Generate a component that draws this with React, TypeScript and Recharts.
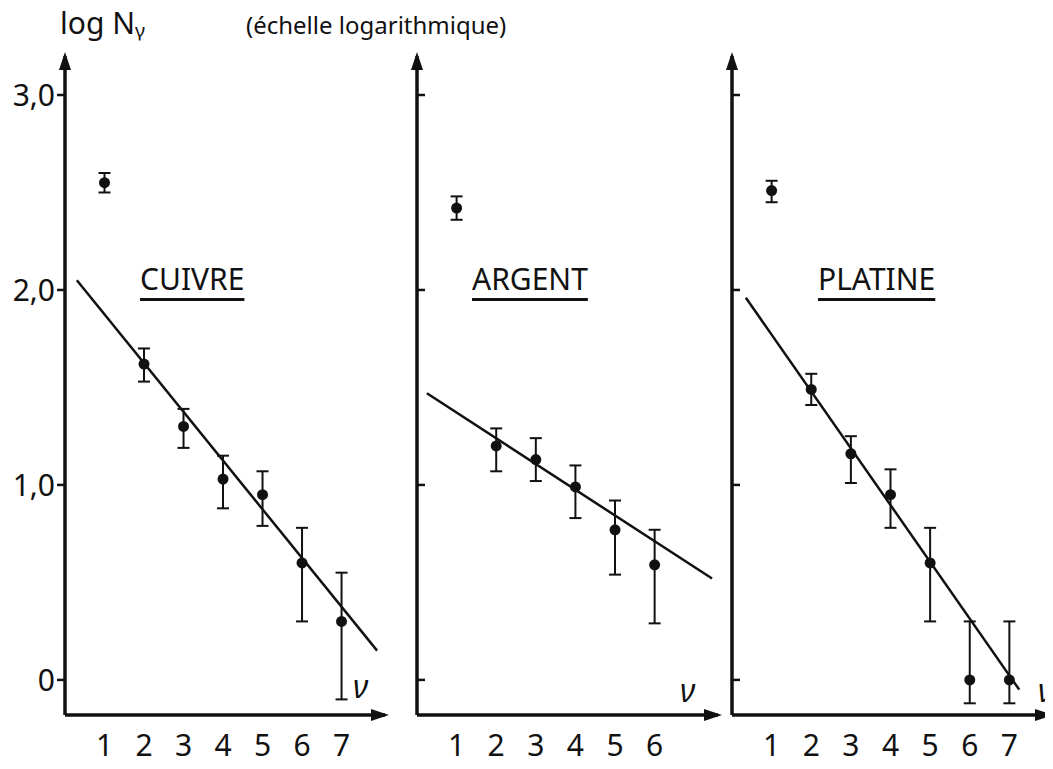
import React from "react";
import { ComposedChart, Scatter, Line, XAxis, YAxis, ErrorBar, ReferenceDot } from "recharts";

const cuivreX = [1, 2, 3, 4, 5, 6, 7];
const cuivreY = [2.55, 1.62, 1.3, 1.03, 0.95, 0.6, 0.3];
const cuivreLo = [0.05, 0.09, 0.11, 0.15, 0.16, 0.3, 0.4];
const cuivreHi = [0.05, 0.08, 0.09, 0.12, 0.12, 0.18, 0.25];
const cuivreFit = [[0.3, 2.05], [7.9, 0.15]];

const argentX = [1, 2, 3, 4, 5, 6];
const argentY = [2.42, 1.2, 1.13, 0.99, 0.77, 0.59];
const argentLo = [0.06, 0.13, 0.11, 0.16, 0.23, 0.3];
const argentHi = [0.06, 0.09, 0.11, 0.11, 0.15, 0.18];
const argentFit = [[0.25, 1.47], [7.45, 0.52]];

const platineX = [1, 2, 3, 4, 5, 6, 7];
const platineY = [2.51, 1.49, 1.16, 0.95, 0.6, 0.0, 0.0];
const platineLo = [0.06, 0.08, 0.15, 0.17, 0.3, 0.12, 0.12];
const platineHi = [0.05, 0.08, 0.09, 0.13, 0.18, 0.3, 0.3];
const platineFit = [[0.35, 1.96], [7.25, -0.05]];

const yTicks = [0, 1, 2, 3];
const yTickLabels = ["0", "1,0", "2,0", "3,0"];

const FONT = "'Noto Sans', sans-serif";

const mk = (xs: number[], ys: number[], lo: number[], hi: number[]) =>
  xs.map((x, i) => ({ x, y: ys[i], err: [lo[i], hi[i]] }));

const Arrow = ({ cx, cy, dir }: any) => {
  if (cx == null) return null;
  const p = dir === "up"
    ? `${cx},${cy - 4} ${cx - 6},${cy + 14} ${cx + 6},${cy + 14}`
    : `${cx + 4},${cy} ${cx - 14},${cy - 6} ${cx - 14},${cy + 6}`;
  return <polygon points={p} fill="#111" />;
};

function Panel({ left, width, mleft, xmax, xs, ys, lo, hi, fit, labels, ticks }: any) {
  const data = mk(xs, ys, lo, hi);
  const fitData = fit.map((p: number[]) => ({ x: p[0], y: p[1] }));
  const yw = labels ? 60 : 1;
  return (
    <div style={{ position: "absolute", left, top: 0 }}>
      <ComposedChart width={width} height={769} margin={{ top: 56, left: mleft - yw, right: width - mleft - Math.round(xmax * 39.5), bottom: 24 }}>
        <XAxis type="number" dataKey="x" domain={[0, xmax]} ticks={ticks} allowDataOverflow height={30}
          axisLine={{ stroke: "#111", strokeWidth: 3.5 }} tickLine={false}
          tick={{ fill: "#111", fontSize: 30, fontFamily: FONT }} tickMargin={14} />
        <YAxis type="number" dataKey="y" domain={[-0.18, 3.2]} ticks={yTicks} width={yw} allowDataOverflow
          axisLine={{ stroke: "#111", strokeWidth: 3.5 }} tickLine={{ stroke: "#111", strokeWidth: 2.5 }} tickSize={8}
          mirror={!labels}
          tickFormatter={(v: number) => labels ? yTickLabels[yTicks.indexOf(v)] : ""}
          tick={{ fill: "#111", fontSize: 30, fontFamily: FONT }} />
        <Line data={fitData} dataKey="y" stroke="#111" strokeWidth={2.5} dot={false} isAnimationActive={false} />
        <Scatter data={data} dataKey="y" fill="#111" isAnimationActive={false}
          shape={(p: any) => <circle cx={p.cx} cy={p.cy} r={5.5} fill="#111" />}>
          <ErrorBar dataKey="err" width={6} stroke="#111" strokeWidth={2} direction="y" />
        </Scatter>
        <ReferenceDot x={0} y={3.2} r={0} ifOverflow="visible" shape={(p: any) => <Arrow {...p} dir="up" />} />
        <ReferenceDot x={xmax} y={-0.18} r={0} ifOverflow="visible" shape={(p: any) => <Arrow {...p} dir="right" />} />
      </ComposedChart>
    </div>
  );
}

const txt = (s: string, x: number, y: number, size: number, extra: any = {}) => (
  <div style={{ position: "absolute", left: x, top: y, fontSize: size, fontFamily: FONT, color: "#111", whiteSpace: "nowrap", ...extra }}>{s}</div>
);

export default function App() {
  return (
    <div style={{ position: "relative", width: 1053, height: 769, margin: -8, background: "#fff", overflow: "hidden" }}>
      <Panel left={0} width={400} mleft={65} xmax={8.1} xs={cuivreX} ys={cuivreY} lo={cuivreLo} hi={cuivreHi} fit={cuivreFit} labels ticks={cuivreX} />
      <Panel left={360} width={370} mleft={58} xmax={7.6} xs={argentX} ys={argentY} lo={argentLo} hi={argentHi} fit={argentFit} labels={false} ticks={argentX} />
      <Panel left={680} width={373} mleft={53} xmax={8} xs={platineX} ys={platineY} lo={platineLo} hi={platineHi} fit={platineFit} labels={false} ticks={platineX} />
      {txt("log N\u1d67", 60, 2, 30)}
      {txt("(échelle logarithmique)", 246, 8, 24)}
      {txt("CUIVRE", 140, 258, 30, { textDecoration: "underline", textUnderlineOffset: 8 })}
      {txt("ARGENT", 472, 258, 30, { textDecoration: "underline", textUnderlineOffset: 8 })}
      {txt("PLATINE", 818, 258, 30, { textDecoration: "underline", textUnderlineOffset: 8 })}
      {txt("ν", 353, 664, 32, { fontStyle: "italic" })}
      {txt("ν", 680, 668, 32, { fontStyle: "italic" })}
      {txt("ν", 1038, 668, 32, { fontStyle: "italic" })}
    </div>
  );
}
